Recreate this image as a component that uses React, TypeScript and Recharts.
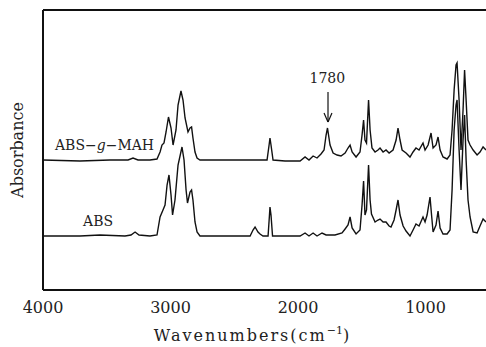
import { LineChart, Line, XAxis, YAxis, ReferenceLine, ReferenceDot } from 'recharts'

// wavenumbers (cm-1) and absorbance (a.u.)
const mahWn = [
    4000, 3710, 3475, 3333, 3294, 3255, 3161, 3106, 3082, 3067, 3051, 3035, 3016, 2996, 2980,
    2957, 2941, 2918, 2902, 2886, 2863, 2847, 2835, 2824, 2808, 2792, 2769, 2533, 2298, 2243,
    2227, 2220, 2212, 2196, 2102, 1984, 1945, 1914, 1882, 1851, 1820, 1796, 1780, 1769, 1749,
    1725, 1694, 1663, 1631, 1608, 1592, 1576, 1545, 1514, 1498, 1486, 1475, 1463, 1447, 1435,
    1420, 1396, 1373, 1357, 1333, 1310, 1286, 1255, 1231, 1216, 1200, 1184, 1153, 1122, 1098,
    1075, 1051, 1020, 1004, 980, 957, 941, 918, 902, 886, 863, 831, 808, 792, 776,
    761, 753, 737, 722, 706, 694, 682, 667, 651, 627, 596, 573, 549, 526,
]
const mahAbs = [
    1.3, 1.29, 1.3, 1.3, 1.32, 1.3, 1.3, 1.31, 1.38, 1.45, 1.47, 1.58, 1.73, 1.62, 1.45,
    1.6, 1.85, 1.99, 1.9, 1.72, 1.58, 1.62, 1.63, 1.52, 1.38, 1.32, 1.3, 1.3, 1.3, 1.3,
    1.45, 1.52, 1.45, 1.3, 1.29, 1.29, 1.33, 1.3, 1.34, 1.32, 1.36, 1.4, 1.55, 1.62, 1.45,
    1.37, 1.35, 1.34, 1.37, 1.42, 1.45, 1.38, 1.33, 1.38, 1.55, 1.7, 1.5, 1.47, 1.9, 1.6,
    1.42, 1.38, 1.4, 1.42, 1.38, 1.4, 1.37, 1.4, 1.5, 1.62, 1.5, 1.4, 1.37, 1.33, 1.38,
    1.42, 1.4, 1.47, 1.4, 1.45, 1.57, 1.42, 1.45, 1.53, 1.4, 1.33, 1.31, 1.35, 1.6, 2.0,
    2.25, 2.27, 1.9, 1.4, 1.8, 2.2, 1.9, 1.5, 1.45, 1.4, 1.35, 1.38, 1.43, 1.4,
]

const absWn = [
    4000, 3710, 3553, 3357, 3310, 3278, 3247, 3161, 3106, 3082, 3059, 3043, 3027, 3012, 2996,
    2984, 2965, 2941, 2910, 2894, 2878, 2867, 2847, 2835, 2824, 2808, 2792, 2769, 2533, 2376,
    2353, 2337, 2314, 2298, 2275, 2235, 2224, 2220, 2212, 2200, 1984, 1945, 1914, 1882, 1851,
    1812, 1780, 1710, 1655, 1631, 1608, 1592, 1576, 1545, 1514, 1498, 1486, 1475, 1463, 1447,
    1435, 1424, 1396, 1373, 1357, 1333, 1310, 1286, 1271, 1247, 1231, 1216, 1200, 1176, 1153,
    1122, 1098, 1075, 1051, 1020, 1004, 988, 965, 953, 941, 918, 902, 886, 863, 831,
    808, 792, 776, 761, 753, 737, 722, 706, 694, 682, 667, 651, 627, 596, 573,
    549, 526,
]
const absAbs = [
    0.54, 0.54, 0.55, 0.54, 0.55, 0.58, 0.55, 0.54, 0.55, 0.73, 0.8, 0.85, 1.05, 1.15, 0.95,
    0.75, 0.9, 1.25, 1.43, 1.3, 1.0, 0.87, 0.98, 1.0, 0.9, 0.68, 0.58, 0.54, 0.54, 0.54,
    0.6, 0.63, 0.58, 0.56, 0.54, 0.54, 0.75, 0.83, 0.75, 0.54, 0.54, 0.57, 0.54, 0.57, 0.54,
    0.57, 0.55, 0.55, 0.57, 0.61, 0.65, 0.73, 0.62, 0.56, 0.6, 0.85, 1.09, 0.75, 0.8, 1.25,
    0.9, 0.76, 0.68, 0.7, 0.71, 0.68, 0.68, 0.64, 0.63, 0.7, 0.8, 0.9, 0.75, 0.64, 0.59,
    0.54, 0.6, 0.66, 0.64, 0.73, 0.68, 0.75, 0.93, 0.75, 0.58, 0.65, 0.79, 0.62, 0.56, 0.56,
    0.6, 1.0, 1.6, 1.85, 1.9, 1.4, 1.0, 1.5, 1.75, 1.3, 0.9, 0.73, 0.58, 0.57, 0.64,
    0.71, 0.68,
]

const xTicks = [4000, 3000, 2000, 1000]
const xDomain = [526, 4000]
const yDomain = [0, 2.8]

const mahData = mahWn.map((wn, i) => ({ wn, a: mahAbs[i] }))
const absData = absWn.map((wn, i) => ({ wn, a: absAbs[i] }))

const FONT = '"DejaVu Serif", "Liberation Serif", serif'

function XTitle(props: any) {
    const vb = props.viewBox
    return (
        <text
            x={vb.x + vb.width / 2 - 12}
            y={vb.y + 51}
            textAnchor="middle"
            fontFamily={FONT}
            fontSize={16}
            letterSpacing={2}
            fill="#222"
        >
            Wavenumbers(cm
            <tspan dy={-7} fontSize={11} letterSpacing={0}>−1</tspan>
            <tspan dy={7}>)</tspan>
        </text>
    )
}

export default function App() {
    return (
        <div style={{ position: 'absolute', left: 0, top: 0, background: '#fff' }}>
            <LineChart
                width={486}
                height={347}
                margin={{ top: 10, right: 0, left: 43, bottom: 0 }}
            >
                <XAxis
                    dataKey="wn"
                    type="number"
                    domain={xDomain}
                    reversed
                    allowDataOverflow
                    ticks={xTicks}
                    height={57}
                    tickLine={false}
                    tickSize={0}
                    tickMargin={12}
                    axisLine={{ stroke: '#111', strokeWidth: 2 }}
                    tick={{ fill: '#222', fontSize: 16, fontFamily: FONT }}
                    label={<XTitle />}
                />
                <YAxis type="number" domain={yDomain} hide />
                {/* frame: top and left edges */}
                <ReferenceLine y={2.8} stroke="#111" strokeWidth={2} ifOverflow="visible" />
                <ReferenceLine x={4000} stroke="#111" strokeWidth={2} ifOverflow="visible" />
                <Line
                    data={mahData}
                    dataKey="a"
                    type="linear"
                    stroke="#111"
                    strokeWidth={1.4}
                    dot={false}
                    isAnimationActive={false}
                />
                <Line
                    data={absData}
                    dataKey="a"
                    type="linear"
                    stroke="#111"
                    strokeWidth={1.4}
                    dot={false}
                    isAnimationActive={false}
                />
                {/* arrow for the 1780 band */}
                <ReferenceLine
                    segment={[{ x: 1765, y: 1.98 }, { x: 1765, y: 1.68 }]}
                    stroke="#111"
                    strokeWidth={1.2}
                />
                <ReferenceLine
                    segment={[{ x: 1796, y: 1.77 }, { x: 1765, y: 1.68 }]}
                    stroke="#111"
                    strokeWidth={1.2}
                />
                <ReferenceLine
                    segment={[{ x: 1734, y: 1.77 }, { x: 1765, y: 1.68 }]}
                    stroke="#111"
                    strokeWidth={1.2}
                />
                <ReferenceDot
                    x={1770}
                    y={2.07}
                    r={0}
                    shape={(p: any) => (
                        <text x={p.cx} y={p.cy} textAnchor="middle" fontFamily={FONT} fontSize={14} fill="#222">
                            1780
                        </text>
                    )}
                />
                <ReferenceDot
                    x={3906}
                    y={1.4}
                    r={0}
                    shape={(p: any) => (
                        <text x={p.cx} y={p.cy} fontFamily={FONT} fontSize={14} fill="#222">
                            ABS−<tspan fontStyle="italic">g</tspan>−MAH
                        </text>
                    )}
                />
                <ReferenceDot
                    x={3686}
                    y={0.64}
                    r={0}
                    shape={(p: any) => (
                        <text x={p.cx} y={p.cy} fontFamily={FONT} fontSize={14} fill="#222">
                            ABS
                        </text>
                    )}
                />
                <ReferenceDot
                    x={4000}
                    y={1.4}
                    r={0}
                    ifOverflow="visible"
                    shape={(p: any) => (
                        <text
                            x={p.cx - 20}
                            y={p.cy}
                            transform={`rotate(-90, ${p.cx - 20}, ${p.cy})`}
                            textAnchor="middle"
                            fontFamily={FONT}
                            fontSize={16}
                            fill="#222"
                        >
                            Absorbance
                        </text>
                    )}
                />
            </LineChart>
        </div>
    )
}
